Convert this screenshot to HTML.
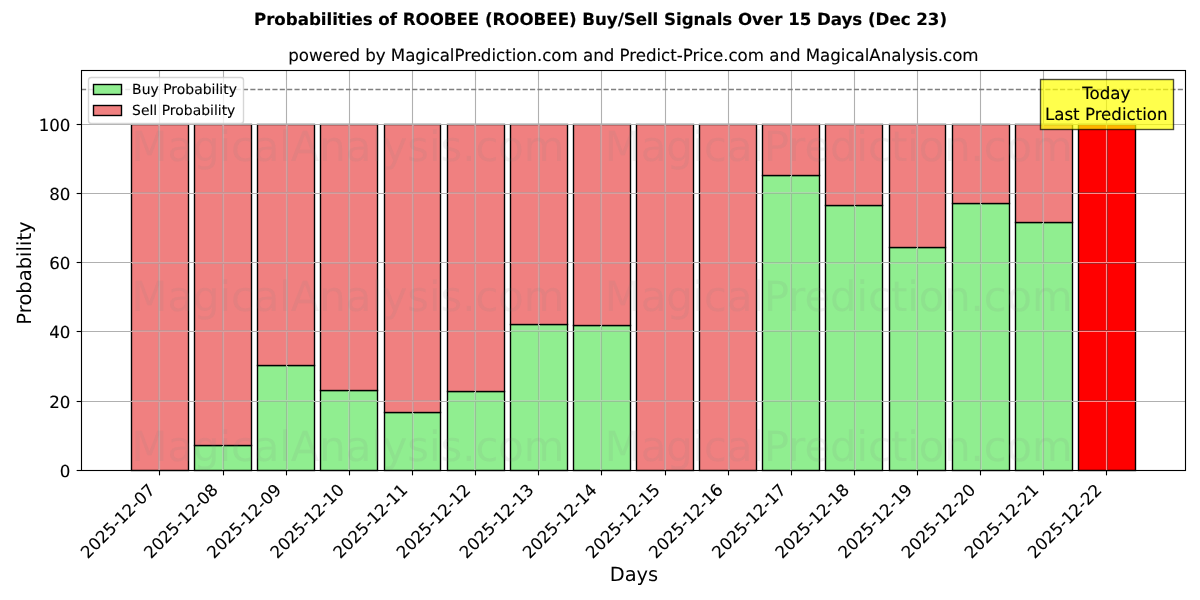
<!DOCTYPE html>
<html lang="en">
<head>
<meta charset="utf-8">
<title>Probabilities of ROOBEE (ROOBEE) Buy/Sell Signals Over 15 Days (Dec 23)</title>
<style>
html,body{margin:0;padding:0;background:#fff;overflow:hidden}
body{width:1200px;height:600px;font-family:"DejaVu Sans","Liberation Sans",sans-serif}
svg{display:block;text-rendering:geometricPrecision}
.k text,text.k{stroke:#000;stroke-width:0.11px;stroke-linejoin:round}
text.kb{stroke:#000;stroke-width:0.15px;stroke-linejoin:round}
</style>
</head>
<body>
<svg width="1200" height="600" viewBox="0 0 1200 600" font-family='"DejaVu Sans", "Liberation Sans", sans-serif'>
<rect width="1200" height="600" fill="#fff"/>
<defs><clipPath id="axclip"><rect x="81" y="70" width="1105" height="401"/></clipPath></defs>
<g stroke="#000" stroke-width="1.389" stroke-linejoin="miter">
<rect x="131.5" y="124.5" width="57.0" height="346.0" fill="#f08080"/>
<rect x="194.5" y="445.5" width="57.0" height="25.0" fill="#90ee90"/>
<rect x="194.5" y="124.5" width="57.0" height="321.0" fill="#f08080"/>
<rect x="257.5" y="365.5" width="57.0" height="105.0" fill="#90ee90"/>
<rect x="257.5" y="124.5" width="57.0" height="241.0" fill="#f08080"/>
<rect x="320.5" y="390.5" width="57.0" height="80.0" fill="#90ee90"/>
<rect x="320.5" y="124.5" width="57.0" height="266.0" fill="#f08080"/>
<rect x="384.5" y="412.5" width="56.0" height="58.0" fill="#90ee90"/>
<rect x="384.5" y="124.5" width="56.0" height="288.0" fill="#f08080"/>
<rect x="447.5" y="391.5" width="57.0" height="79.0" fill="#90ee90"/>
<rect x="447.5" y="124.5" width="57.0" height="267.0" fill="#f08080"/>
<rect x="510.5" y="324.5" width="57.0" height="146.0" fill="#90ee90"/>
<rect x="510.5" y="124.5" width="57.0" height="200.0" fill="#f08080"/>
<rect x="573.5" y="325.5" width="57.0" height="145.0" fill="#90ee90"/>
<rect x="573.5" y="124.5" width="57.0" height="201.0" fill="#f08080"/>
<rect x="636.5" y="124.5" width="57.0" height="346.0" fill="#f08080"/>
<rect x="699.5" y="124.5" width="57.0" height="346.0" fill="#f08080"/>
<rect x="762.5" y="175.5" width="57.0" height="295.0" fill="#90ee90"/>
<rect x="762.5" y="124.5" width="57.0" height="51.0" fill="#f08080"/>
<rect x="825.5" y="205.5" width="57.0" height="265.0" fill="#90ee90"/>
<rect x="825.5" y="124.5" width="57.0" height="81.0" fill="#f08080"/>
<rect x="889.5" y="247.5" width="56.0" height="223.0" fill="#90ee90"/>
<rect x="889.5" y="124.5" width="56.0" height="123.0" fill="#f08080"/>
<rect x="952.5" y="203.5" width="57.0" height="267.0" fill="#90ee90"/>
<rect x="952.5" y="124.5" width="57.0" height="79.0" fill="#f08080"/>
<rect x="1015.5" y="222.5" width="57.0" height="248.0" fill="#90ee90"/>
<rect x="1015.5" y="124.5" width="57.0" height="98.0" fill="#f08080"/>
<rect x="1078.5" y="124.5" width="57.0" height="346.0" fill="#ff0000"/>
</g>
<g stroke="#b0b0b0" stroke-width="1.111" fill="none">
<path d="M159.5 470.5V70.5"/>
<path d="M223.5 470.5V70.5"/>
<path d="M286.5 470.5V70.5"/>
<path d="M349.5 470.5V70.5"/>
<path d="M412.5 470.5V70.5"/>
<path d="M475.5 470.5V70.5"/>
<path d="M538.5 470.5V70.5"/>
<path d="M601.5 470.5V70.5"/>
<path d="M665.5 470.5V70.5"/>
<path d="M728.5 470.5V70.5"/>
<path d="M791.5 470.5V70.5"/>
<path d="M854.5 470.5V70.5"/>
<path d="M917.5 470.5V70.5"/>
<path d="M980.5 470.5V70.5"/>
<path d="M1043.5 470.5V70.5"/>
<path d="M1106.5 470.5V70.5"/>
<path d="M81.5 124.5H1185.5"/>
<path d="M81.5 193.5H1185.5"/>
<path d="M81.5 262.5H1185.5"/>
<path d="M81.5 331.5H1185.5"/>
<path d="M81.5 401.5H1185.5"/>
</g>
<g shape-rendering="crispEdges">
<rect x="159" y="125" width="1" height="345" fill="#d79f9f"/>
<rect x="158" y="125" width="1" height="345" fill="#c99191"/>
<rect x="223" y="125" width="1" height="320" fill="#d79f9f"/>
<rect x="222" y="125" width="1" height="320" fill="#c99191"/>
<rect x="223" y="446" width="1" height="24" fill="#94c394"/>
<rect x="222" y="446" width="1" height="24" fill="#acdbac"/>
<rect x="286" y="125" width="1" height="240" fill="#d79f9f"/>
<rect x="287" y="125" width="1" height="240" fill="#c99191"/>
<rect x="286" y="366" width="1" height="104" fill="#94c394"/>
<rect x="287" y="366" width="1" height="104" fill="#acdbac"/>
<rect x="349" y="125" width="1" height="265" fill="#d79f9f"/>
<rect x="348" y="125" width="1" height="265" fill="#c99191"/>
<rect x="349" y="391" width="1" height="79" fill="#94c394"/>
<rect x="348" y="391" width="1" height="79" fill="#acdbac"/>
<rect x="412" y="125" width="1" height="287" fill="#d79f9f"/>
<rect x="413" y="125" width="1" height="287" fill="#c99191"/>
<rect x="412" y="413" width="1" height="57" fill="#94c394"/>
<rect x="413" y="413" width="1" height="57" fill="#acdbac"/>
<rect x="475" y="125" width="1" height="266" fill="#d79f9f"/>
<rect x="474" y="125" width="1" height="266" fill="#c99191"/>
<rect x="475" y="392" width="1" height="78" fill="#94c394"/>
<rect x="474" y="392" width="1" height="78" fill="#acdbac"/>
<rect x="538" y="125" width="1" height="199" fill="#d79f9f"/>
<rect x="539" y="125" width="1" height="199" fill="#c99191"/>
<rect x="538" y="325" width="1" height="145" fill="#94c394"/>
<rect x="539" y="325" width="1" height="145" fill="#acdbac"/>
<rect x="601" y="125" width="1" height="200" fill="#d79f9f"/>
<rect x="600" y="125" width="1" height="200" fill="#c99191"/>
<rect x="601" y="326" width="1" height="144" fill="#94c394"/>
<rect x="600" y="326" width="1" height="144" fill="#acdbac"/>
<rect x="665" y="125" width="1" height="345" fill="#d79f9f"/>
<rect x="664" y="125" width="1" height="345" fill="#c99191"/>
<rect x="728" y="125" width="1" height="345" fill="#d79f9f"/>
<rect x="729" y="125" width="1" height="345" fill="#c99191"/>
<rect x="791" y="125" width="1" height="50" fill="#d79f9f"/>
<rect x="790" y="125" width="1" height="50" fill="#c99191"/>
<rect x="791" y="176" width="1" height="294" fill="#94c394"/>
<rect x="790" y="176" width="1" height="294" fill="#acdbac"/>
<rect x="854" y="125" width="1" height="80" fill="#d79f9f"/>
<rect x="855" y="125" width="1" height="80" fill="#c99191"/>
<rect x="854" y="206" width="1" height="264" fill="#94c394"/>
<rect x="855" y="206" width="1" height="264" fill="#acdbac"/>
<rect x="917" y="125" width="1" height="122" fill="#d79f9f"/>
<rect x="916" y="125" width="1" height="122" fill="#c99191"/>
<rect x="917" y="248" width="1" height="222" fill="#94c394"/>
<rect x="916" y="248" width="1" height="222" fill="#acdbac"/>
<rect x="980" y="125" width="1" height="78" fill="#d79f9f"/>
<rect x="981" y="125" width="1" height="78" fill="#c99191"/>
<rect x="980" y="204" width="1" height="266" fill="#94c394"/>
<rect x="981" y="204" width="1" height="266" fill="#acdbac"/>
<rect x="1043" y="125" width="1" height="97" fill="#d79f9f"/>
<rect x="1042" y="125" width="1" height="97" fill="#c99191"/>
<rect x="1043" y="223" width="1" height="247" fill="#94c394"/>
<rect x="1042" y="223" width="1" height="247" fill="#acdbac"/>
<rect x="1106" y="125" width="1" height="345" fill="#ff8a8a"/>
<rect x="1107" y="125" width="1" height="345" fill="#a62626"/>
<rect x="132" y="193" width="56" height="1" fill="#d79f9f"/>
<rect x="132" y="192" width="56" height="1" fill="#c99191"/>
<rect x="195" y="193" width="56" height="1" fill="#d79f9f"/>
<rect x="195" y="192" width="56" height="1" fill="#c99191"/>
<rect x="258" y="193" width="56" height="1" fill="#d79f9f"/>
<rect x="258" y="192" width="56" height="1" fill="#c99191"/>
<rect x="321" y="193" width="56" height="1" fill="#d79f9f"/>
<rect x="321" y="192" width="56" height="1" fill="#c99191"/>
<rect x="385" y="193" width="55" height="1" fill="#d79f9f"/>
<rect x="385" y="192" width="55" height="1" fill="#c99191"/>
<rect x="448" y="193" width="56" height="1" fill="#d79f9f"/>
<rect x="448" y="192" width="56" height="1" fill="#c99191"/>
<rect x="511" y="193" width="56" height="1" fill="#d79f9f"/>
<rect x="511" y="192" width="56" height="1" fill="#c99191"/>
<rect x="574" y="193" width="56" height="1" fill="#d79f9f"/>
<rect x="574" y="192" width="56" height="1" fill="#c99191"/>
<rect x="637" y="193" width="56" height="1" fill="#d79f9f"/>
<rect x="637" y="192" width="56" height="1" fill="#c99191"/>
<rect x="700" y="193" width="56" height="1" fill="#d79f9f"/>
<rect x="700" y="192" width="56" height="1" fill="#c99191"/>
<rect x="763" y="193" width="56" height="1" fill="#94c394"/>
<rect x="763" y="192" width="56" height="1" fill="#acdbac"/>
<rect x="826" y="193" width="56" height="1" fill="#d79f9f"/>
<rect x="826" y="192" width="56" height="1" fill="#c99191"/>
<rect x="890" y="193" width="55" height="1" fill="#d79f9f"/>
<rect x="890" y="192" width="55" height="1" fill="#c99191"/>
<rect x="953" y="193" width="56" height="1" fill="#d79f9f"/>
<rect x="953" y="192" width="56" height="1" fill="#c99191"/>
<rect x="1016" y="193" width="56" height="1" fill="#d79f9f"/>
<rect x="1016" y="192" width="56" height="1" fill="#c99191"/>
<rect x="1079" y="193" width="56" height="1" fill="#ff8a8a"/>
<rect x="1079" y="192" width="56" height="1" fill="#a62626"/>
<rect x="132" y="262" width="56" height="1" fill="#d79f9f"/>
<rect x="132" y="263" width="56" height="1" fill="#c99191"/>
<rect x="195" y="262" width="56" height="1" fill="#d79f9f"/>
<rect x="195" y="263" width="56" height="1" fill="#c99191"/>
<rect x="258" y="262" width="56" height="1" fill="#d79f9f"/>
<rect x="258" y="263" width="56" height="1" fill="#c99191"/>
<rect x="321" y="262" width="56" height="1" fill="#d79f9f"/>
<rect x="321" y="263" width="56" height="1" fill="#c99191"/>
<rect x="385" y="262" width="55" height="1" fill="#d79f9f"/>
<rect x="385" y="263" width="55" height="1" fill="#c99191"/>
<rect x="448" y="262" width="56" height="1" fill="#d79f9f"/>
<rect x="448" y="263" width="56" height="1" fill="#c99191"/>
<rect x="511" y="262" width="56" height="1" fill="#d79f9f"/>
<rect x="511" y="263" width="56" height="1" fill="#c99191"/>
<rect x="574" y="262" width="56" height="1" fill="#d79f9f"/>
<rect x="574" y="263" width="56" height="1" fill="#c99191"/>
<rect x="637" y="262" width="56" height="1" fill="#d79f9f"/>
<rect x="637" y="263" width="56" height="1" fill="#c99191"/>
<rect x="700" y="262" width="56" height="1" fill="#d79f9f"/>
<rect x="700" y="263" width="56" height="1" fill="#c99191"/>
<rect x="763" y="262" width="56" height="1" fill="#94c394"/>
<rect x="763" y="263" width="56" height="1" fill="#acdbac"/>
<rect x="826" y="262" width="56" height="1" fill="#94c394"/>
<rect x="826" y="263" width="56" height="1" fill="#acdbac"/>
<rect x="890" y="262" width="55" height="1" fill="#94c394"/>
<rect x="890" y="263" width="55" height="1" fill="#acdbac"/>
<rect x="953" y="262" width="56" height="1" fill="#94c394"/>
<rect x="953" y="263" width="56" height="1" fill="#acdbac"/>
<rect x="1016" y="262" width="56" height="1" fill="#94c394"/>
<rect x="1016" y="263" width="56" height="1" fill="#acdbac"/>
<rect x="1079" y="262" width="56" height="1" fill="#ff8a8a"/>
<rect x="1079" y="263" width="56" height="1" fill="#a62626"/>
<rect x="132" y="331" width="56" height="1" fill="#d79f9f"/>
<rect x="132" y="330" width="56" height="1" fill="#c99191"/>
<rect x="195" y="331" width="56" height="1" fill="#d79f9f"/>
<rect x="195" y="330" width="56" height="1" fill="#c99191"/>
<rect x="258" y="331" width="56" height="1" fill="#d79f9f"/>
<rect x="258" y="330" width="56" height="1" fill="#c99191"/>
<rect x="321" y="331" width="56" height="1" fill="#d79f9f"/>
<rect x="321" y="330" width="56" height="1" fill="#c99191"/>
<rect x="385" y="331" width="55" height="1" fill="#d79f9f"/>
<rect x="385" y="330" width="55" height="1" fill="#c99191"/>
<rect x="448" y="331" width="56" height="1" fill="#d79f9f"/>
<rect x="448" y="330" width="56" height="1" fill="#c99191"/>
<rect x="511" y="331" width="56" height="1" fill="#94c394"/>
<rect x="511" y="330" width="56" height="1" fill="#acdbac"/>
<rect x="574" y="331" width="56" height="1" fill="#94c394"/>
<rect x="574" y="330" width="56" height="1" fill="#acdbac"/>
<rect x="637" y="331" width="56" height="1" fill="#d79f9f"/>
<rect x="637" y="330" width="56" height="1" fill="#c99191"/>
<rect x="700" y="331" width="56" height="1" fill="#d79f9f"/>
<rect x="700" y="330" width="56" height="1" fill="#c99191"/>
<rect x="763" y="331" width="56" height="1" fill="#94c394"/>
<rect x="763" y="330" width="56" height="1" fill="#acdbac"/>
<rect x="826" y="331" width="56" height="1" fill="#94c394"/>
<rect x="826" y="330" width="56" height="1" fill="#acdbac"/>
<rect x="890" y="331" width="55" height="1" fill="#94c394"/>
<rect x="890" y="330" width="55" height="1" fill="#acdbac"/>
<rect x="953" y="331" width="56" height="1" fill="#94c394"/>
<rect x="953" y="330" width="56" height="1" fill="#acdbac"/>
<rect x="1016" y="331" width="56" height="1" fill="#94c394"/>
<rect x="1016" y="330" width="56" height="1" fill="#acdbac"/>
<rect x="1079" y="331" width="56" height="1" fill="#ff8a8a"/>
<rect x="1079" y="330" width="56" height="1" fill="#a62626"/>
<rect x="132" y="401" width="56" height="1" fill="#d79f9f"/>
<rect x="132" y="400" width="56" height="1" fill="#c99191"/>
<rect x="195" y="401" width="56" height="1" fill="#d79f9f"/>
<rect x="195" y="400" width="56" height="1" fill="#c99191"/>
<rect x="258" y="401" width="56" height="1" fill="#94c394"/>
<rect x="258" y="400" width="56" height="1" fill="#acdbac"/>
<rect x="321" y="401" width="56" height="1" fill="#94c394"/>
<rect x="321" y="400" width="56" height="1" fill="#acdbac"/>
<rect x="385" y="401" width="55" height="1" fill="#d79f9f"/>
<rect x="385" y="400" width="55" height="1" fill="#c99191"/>
<rect x="448" y="401" width="56" height="1" fill="#94c394"/>
<rect x="448" y="400" width="56" height="1" fill="#acdbac"/>
<rect x="511" y="401" width="56" height="1" fill="#94c394"/>
<rect x="511" y="400" width="56" height="1" fill="#acdbac"/>
<rect x="574" y="401" width="56" height="1" fill="#94c394"/>
<rect x="574" y="400" width="56" height="1" fill="#acdbac"/>
<rect x="637" y="401" width="56" height="1" fill="#d79f9f"/>
<rect x="637" y="400" width="56" height="1" fill="#c99191"/>
<rect x="700" y="401" width="56" height="1" fill="#d79f9f"/>
<rect x="700" y="400" width="56" height="1" fill="#c99191"/>
<rect x="763" y="401" width="56" height="1" fill="#94c394"/>
<rect x="763" y="400" width="56" height="1" fill="#acdbac"/>
<rect x="826" y="401" width="56" height="1" fill="#94c394"/>
<rect x="826" y="400" width="56" height="1" fill="#acdbac"/>
<rect x="890" y="401" width="55" height="1" fill="#94c394"/>
<rect x="890" y="400" width="55" height="1" fill="#acdbac"/>
<rect x="953" y="401" width="56" height="1" fill="#94c394"/>
<rect x="953" y="400" width="56" height="1" fill="#acdbac"/>
<rect x="1016" y="401" width="56" height="1" fill="#94c394"/>
<rect x="1016" y="400" width="56" height="1" fill="#acdbac"/>
<rect x="1079" y="401" width="56" height="1" fill="#ff8a8a"/>
<rect x="1079" y="400" width="56" height="1" fill="#a62626"/>
</g>
<path d="M81 89.5H1185" stroke="#808080" stroke-width="1.389" stroke-dasharray="5.139 2.222" fill="none"/>
<g stroke="#000" stroke-width="1.111" fill="none">
<path d="M159.5 470.5v4.86"/>
<path d="M223.5 470.5v4.86"/>
<path d="M286.5 470.5v4.86"/>
<path d="M349.5 470.5v4.86"/>
<path d="M412.5 470.5v4.86"/>
<path d="M475.5 470.5v4.86"/>
<path d="M538.5 470.5v4.86"/>
<path d="M601.5 470.5v4.86"/>
<path d="M665.5 470.5v4.86"/>
<path d="M728.5 470.5v4.86"/>
<path d="M791.5 470.5v4.86"/>
<path d="M854.5 470.5v4.86"/>
<path d="M917.5 470.5v4.86"/>
<path d="M980.5 470.5v4.86"/>
<path d="M1043.5 470.5v4.86"/>
<path d="M1106.5 470.5v4.86"/>
<path d="M81.5 470.5h-4.86"/>
<path d="M81.5 401.5h-4.86"/>
<path d="M81.5 331.5h-4.86"/>
<path d="M81.5 262.5h-4.86"/>
<path d="M81.5 193.5h-4.86"/>
<path d="M81.5 124.5h-4.86"/>
</g>
<rect x="81.5" y="70.5" width="1104.0" height="400.0" fill="none" stroke="#000" stroke-width="1.111" stroke-linejoin="miter"/>
<g class="k" font-size="16.667px" fill="#000">
<text textLength="96.25" lengthAdjust="spacing" transform="translate(87.85 559.17) rotate(-45)">2025-12-07</text>
<text textLength="96.25" lengthAdjust="spacing" transform="translate(150.97 559.17) rotate(-45)">2025-12-08</text>
<text textLength="96.25" lengthAdjust="spacing" transform="translate(214.09 559.17) rotate(-45)">2025-12-09</text>
<text textLength="96.25" lengthAdjust="spacing" transform="translate(277.21 559.17) rotate(-45)">2025-12-10</text>
<text textLength="96.25" lengthAdjust="spacing" transform="translate(340.33 559.17) rotate(-45)">2025-12-11</text>
<text textLength="96.25" lengthAdjust="spacing" transform="translate(403.45 559.17) rotate(-45)">2025-12-12</text>
<text textLength="96.25" lengthAdjust="spacing" transform="translate(466.58 559.17) rotate(-45)">2025-12-13</text>
<text textLength="96.25" lengthAdjust="spacing" transform="translate(529.70 559.17) rotate(-45)">2025-12-14</text>
<text textLength="96.25" lengthAdjust="spacing" transform="translate(592.82 559.17) rotate(-45)">2025-12-15</text>
<text textLength="96.25" lengthAdjust="spacing" transform="translate(655.94 559.17) rotate(-45)">2025-12-16</text>
<text textLength="96.25" lengthAdjust="spacing" transform="translate(719.06 559.17) rotate(-45)">2025-12-17</text>
<text textLength="96.25" lengthAdjust="spacing" transform="translate(782.19 559.17) rotate(-45)">2025-12-18</text>
<text textLength="96.25" lengthAdjust="spacing" transform="translate(845.31 559.17) rotate(-45)">2025-12-19</text>
<text textLength="96.25" lengthAdjust="spacing" transform="translate(908.43 559.17) rotate(-45)">2025-12-20</text>
<text textLength="96.25" lengthAdjust="spacing" transform="translate(971.55 559.17) rotate(-45)">2025-12-21</text>
<text textLength="96.25" lengthAdjust="spacing" transform="translate(1034.67 559.17) rotate(-45)">2025-12-22</text>
<text textLength="10.5" lengthAdjust="spacing" x="70.48" y="476.83" text-anchor="end">0</text>
<text textLength="21.125" lengthAdjust="spacing" x="70.48" y="407.83" text-anchor="end">20</text>
<text textLength="21.125" lengthAdjust="spacing" x="70.48" y="337.83" text-anchor="end">40</text>
<text textLength="21.125" lengthAdjust="spacing" x="70.48" y="268.83" text-anchor="end">60</text>
<text textLength="21.125" lengthAdjust="spacing" x="70.48" y="199.83" text-anchor="end">80</text>
<text textLength="31.625" lengthAdjust="spacing" x="70.48" y="130.83" text-anchor="end">100</text>
</g>
<text textLength="48.375" lengthAdjust="spacing" x="634.00" y="580.95" font-size="19.444px" text-anchor="middle">Days</text>
<text textLength="103.25" lengthAdjust="spacing" transform="translate(30.87 273.00) rotate(-90)" font-size="19.444px" text-anchor="middle">Probability</text>
<g font-size="41.667px" fill="#808080" fill-opacity="0.1" text-anchor="middle">
<text textLength="432.75" lengthAdjust="spacing" x="347.96" y="161.00">MagicalAnalysis.com</text>
<text textLength="467.875" lengthAdjust="spacing" x="838.72" y="161.00">MagicalPrediction.com</text>
<text textLength="432.75" lengthAdjust="spacing" x="347.96" y="311.00">MagicalAnalysis.com</text>
<text textLength="467.875" lengthAdjust="spacing" x="838.72" y="311.00">MagicalPrediction.com</text>
<text textLength="432.75" lengthAdjust="spacing" x="347.96" y="461.00">MagicalAnalysis.com</text>
<text textLength="467.875" lengthAdjust="spacing" x="838.72" y="461.00">MagicalPrediction.com</text>
</g>
<rect x="1040.5" y="79.5" width="133" height="50" fill="#ffff00" fill-opacity="0.7" stroke="#000" stroke-opacity="0.7" stroke-width="1.389" stroke-linejoin="miter"/>
<g class="k" font-size="16.667px" fill="#000">
<text textLength="48.0" lengthAdjust="spacing" x="1082.31" y="98.7">Today</text>
<text textLength="122.5" lengthAdjust="spacing" x="1045.01" y="119.5">Last Prediction</text>
</g>
<text textLength="690.375" lengthAdjust="spacing" x="633.40" y="61.27" font-size="16.667px" text-anchor="middle" class="k">powered by MagicalPrediction.com and Predict-Price.com and MagicalAnalysis.com</text>
<text textLength="693.0" lengthAdjust="spacing" x="600.5" y="25.36" font-size="16.667px" font-weight="700" text-anchor="middle" class="kb">Probabilities of ROOBEE (ROOBEE) Buy/Sell Signals Over 15 Days (Dec 23)</text>
<rect x="88.5" y="77.5" width="155" height="46" rx="2.78" fill="#fff" fill-opacity="0.8" stroke="#cccccc" stroke-opacity="0.8" stroke-width="1.389"/>
<g stroke="#000" stroke-width="1.389" stroke-linejoin="miter">
<rect x="93.5" y="84.5" width="28" height="10" fill="#90ee90"/>
<rect x="93.5" y="105.5" width="28" height="10" fill="#f08080"/>
</g>
<g class="k" font-size="13.889px" fill="#000">
<text textLength="104.875" lengthAdjust="spacing" x="132.09" y="93.85">Buy Probability</text>
<text textLength="103.25" lengthAdjust="spacing" x="132.09" y="114.64">Sell Probability</text>
</g>
</svg>
</body>
</html>
